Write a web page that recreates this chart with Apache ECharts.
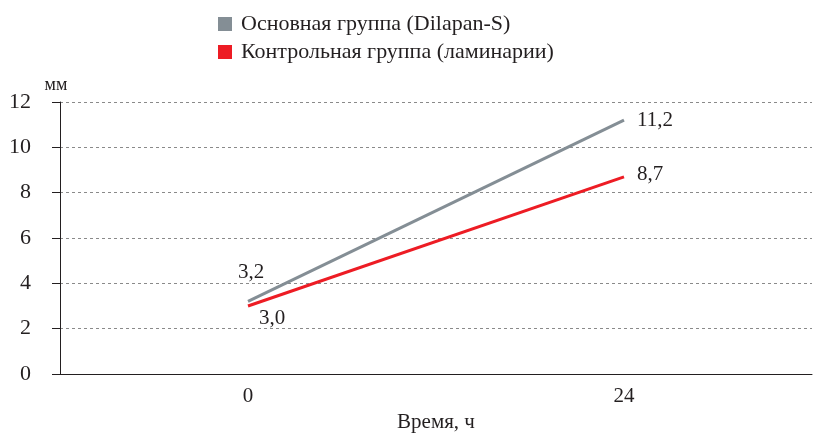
<!DOCTYPE html>
<html>
<head>
<meta charset="utf-8">
<script src="https://cdn.jsdelivr.net/npm/echarts@6/dist/echarts.min.js"></script>
<style>html,body{margin:0;padding:0;background:#fff}#main{width:814px;height:437px}</style>
</head>
<body>
<div id="main"></div>
<script>
var hours = ['0', '24'];
var mainGroup = [3.2, 11.2];
var controlGroup = [3.0, 8.7];
var seriesNames = ['Основная группа (Dilapan-S)', 'Контрольная группа (ламинарии)'];

var FONT = '"Liberation Serif", "DejaVu Serif", serif';
var myChart = echarts.init(document.getElementById('main'));

function fmt(p) { return p.value.toFixed(1).replace('.', ','); }

option = {
    animation: false,
    textStyle: { fontFamily: FONT },
    legend: {
        orient: 'vertical',
        left: 213,
        top: 8,
        itemWidth: 14,
        itemHeight: 14,
        itemGap: 6,
        icon: 'rect',
        textStyle: { fontFamily: FONT, fontSize: 22, color: '#231f20', padding: [0, 0, 0, 4] },
        data: seriesNames
    },
    grid: { left: 60, right: 2, top: 102, bottom: 63, outerBoundsMode: 'none', containLabel: false },
    xAxis: {
        type: 'category',
        data: hours,
        name: 'Время, ч',
        nameLocation: 'middle',
        nameGap: 37,
        nameTextStyle: { fontFamily: FONT, fontSize: 21, color: '#231f20' },
        axisLine: { lineStyle: { color: '#231f20', width: 1 } },
        axisTick: { show: false },
        axisLabel: { fontFamily: FONT, fontSize: 21, color: '#231f20', margin: 12 }
    },
    yAxis: {
        type: 'value',
        min: 0, max: 12, interval: 2,
        name: 'мм',
        nameGap: 8,
        nameTextStyle: { fontFamily: FONT, fontSize: 18, color: '#231f20', align: 'center', padding: [0, 8, 0, 0] },
        axisLine: { show: true, lineStyle: { color: '#231f20', width: 1 } },
        axisTick: { show: true, length: 8, lineStyle: { color: '#231f20' } },
        axisLabel: { fontFamily: FONT, fontSize: 22, color: '#231f20', margin: 29 },
        splitLine: { lineStyle: { color: '#8a8a8a', type: [3, 3], width: 1 } }
    },
    series: [
        {
            name: seriesNames[0],
            type: 'line',
            symbol: 'circle',
            symbolSize: 0,
            color: '#848e95',
            lineStyle: { width: 3 },
            data: mainGroup.map(function (v, i) {
                return {
                    value: v,
                    label: i === 0
                        ? { show: true, position: 'top', offset: [3, -13] }
                        : { show: true, position: 'right', offset: [8, 0] }
                };
            }),
            label: { formatter: fmt, fontFamily: FONT, fontSize: 21, color: '#231f20' }
        },
        {
            name: seriesNames[1],
            type: 'line',
            symbol: 'circle',
            symbolSize: 0,
            color: '#ed1c24',
            lineStyle: { width: 3 },
            data: controlGroup.map(function (v, i) {
                return {
                    value: v,
                    label: i === 0
                        ? { show: true, position: 'bottom', offset: [24, -3] }
                        : { show: true, position: 'right', offset: [8, -2] }
                };
            }),
            label: { formatter: fmt, fontFamily: FONT, fontSize: 21, color: '#231f20' }
        }
    ]
};
myChart.setOption(option);
</script>
</body>
</html>
